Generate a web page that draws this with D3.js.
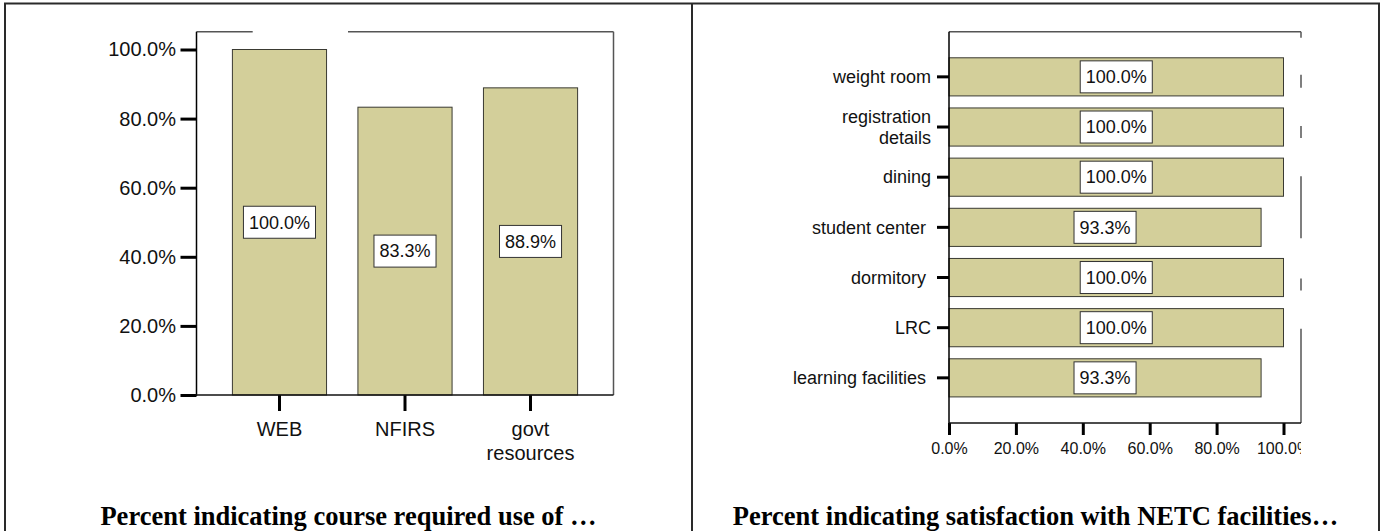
<!DOCTYPE html>
<html><head><meta charset="utf-8">
<script src="https://cdn.jsdelivr.net/npm/d3@7"></script>
<style>
body{margin:0;background:#fff}
svg{display:block}
text{font-family:"Liberation Sans",Arial,sans-serif;fill:#111}
text.title{font-family:"Liberation Serif","Times New Roman",serif;font-weight:bold;fill:#000}
</style>
</head><body>
<svg id="c" width="1382" height="531"></svg>
<script>
// ---- data ----
const barCategories = ["WEB", "NFIRS", "govt\nresources"];
const barValues = [100.0, 83.3, 88.9];
const pctTicks = [0, 20, 40, 60, 80, 100];
const facilityCategories = ["weight room", "registration\ndetails", "dining", "student center ", "dormitory ", "LRC", "learning facilities "];
const facilityValues = [100.0, 100.0, 100.0, 93.3, 100.0, 100.0, 93.3];
const leftTitle = "Percent indicating course required use of …";
const rightTitle = "Percent indicating satisfaction with NETC facilities…";

const BAR_FILL = "#d3cf9a", BAR_STROKE = "#3a3a32", FRAME = "#555";
const fmt = d => d.toFixed(1) + "%";
const svg = d3.select("#c");

// ---- outer panel borders ----
const border = svg.append("g").attr("stroke", "#2a2a2a").attr("stroke-width", 2).attr("fill", "none");
border.append("line").attr("x1", 4).attr("x2", 1380).attr("y1", 3.5).attr("y2", 3.5);
border.append("line").attr("x1", 5).attr("x2", 5).attr("y1", 3).attr("y2", 531);
border.append("line").attr("x1", 692).attr("x2", 692).attr("y1", 3).attr("y2", 531);
border.append("line").attr("x1", 1379).attr("x2", 1379).attr("y1", 3).attr("y2", 531);

function valueLabel(g, cx, cy, txt) {
  const lg = g.append("g").attr("transform", `translate(${cx},${cy})`);
  const rect = lg.append("rect").attr("fill", "#fff").attr("stroke", "#333").attr("stroke-width", 1);
  const t = lg.append("text").attr("text-anchor", "middle").attr("dy", "0.35em")
    .attr("font-size", 18).text(txt);
  const bb = t.node().getBBox();
  const w = bb.width + 11, h = 32;
  rect.attr("x", -w / 2).attr("y", -h / 2).attr("width", w).attr("height", h);
}

// ================= LEFT CHART =================
const L = svg.append("g");
const lx = d3.scaleBand().domain(barCategories).range([196.5, 613.5]).paddingInner(0.25).paddingOuter(0.286);
const ly = d3.scaleLinear().domain([0, 100]).range([395, 49.5]);
const lTop = 31.7;

// frame
const lf = L.append("g").attr("stroke", FRAME).attr("stroke-width", 1.5).attr("fill", "none");
lf.append("line").attr("x1", 196.5).attr("x2", 252.7).attr("y1", lTop).attr("y2", lTop);
lf.append("line").attr("x1", 348).attr("x2", lx.range()[1]).attr("y1", lTop).attr("y2", lTop);
lf.append("line").attr("x1", lx.range()[1]).attr("x2", lx.range()[1]).attr("y1", lTop).attr("y2", ly(0));

// bars
L.append("g").selectAll("rect").data(barValues).join("rect")
  .attr("x", (d, i) => lx(barCategories[i]))
  .attr("y", d => ly(d))
  .attr("width", lx.bandwidth())
  .attr("height", d => ly(0) - ly(d))
  .attr("fill", BAR_FILL).attr("stroke", BAR_STROKE).attr("stroke-width", 1);

// axes
const lyAxis = L.append("g").attr("transform", `translate(${lx.range()[0]},0)`)
  .call(d3.axisLeft(ly).tickValues(pctTicks).tickFormat(fmt).tickSize(16).tickPadding(4.5).tickSizeOuter(0));
lyAxis.select(".domain").remove();
lyAxis.selectAll(".tick line").attr("stroke", "#000").attr("stroke-width", 3);
lyAxis.selectAll(".tick text").attr("font-size", 20).attr("fill", "#111");

const lxAxis = L.append("g").attr("transform", `translate(0,${ly(0)})`)
  .call(d3.axisBottom(lx).tickSize(16).tickSizeOuter(0));
lxAxis.select(".domain").remove();
lxAxis.selectAll(".tick line").attr("stroke", "#000").attr("stroke-width", 3);
lxAxis.selectAll(".tick text").each(function (d) {
  const t = d3.select(this).text(null).attr("y", 0).attr("dy", null)
    .attr("font-size", 20).attr("fill", "#111");
  d.split("\n").forEach((s, i) => t.append("tspan").attr("x", 0).attr("y", 41 + i * 24).text(s));
});
// axis lines
L.append("line").attr("x1", lx.range()[0]).attr("x2", lx.range()[0]).attr("y1", lTop).attr("y2", ly(0) + 1)
  .attr("stroke", "#000").attr("stroke-width", 1.5);
L.append("line").attr("x1", lx.range()[0] - 1).attr("x2", lx.range()[1]).attr("y1", ly(0)).attr("y2", ly(0))
  .attr("stroke", "#111").attr("stroke-width", 1.5);

// value labels
barValues.forEach((v, i) => valueLabel(L, lx(barCategories[i]) + lx.bandwidth() / 2, ly(v / 2), fmt(v)));

// title
L.append("text").attr("class", "title").attr("x", 348.5).attr("y", 525).attr("text-anchor", "middle")
  .attr("font-size", 26.5).text(leftTitle);

// ================= RIGHT CHART =================
const R = svg.append("g");
const rx = d3.scaleLinear().domain([0, 100]).range([949, 1283.5]);
const ry = d3.scaleBand().domain(facilityCategories).range([31.7, 423]).paddingInner(0.24).paddingOuter(0.52);
const rRight = 1301, rTop = 31.7, rBottom = 423;

// frame top and right fragments
const rf = R.append("g").attr("stroke", FRAME).attr("stroke-width", 1.5).attr("fill", "none");
rf.append("line").attr("x1", rx(0)).attr("x2", rRight).attr("y1", rTop).attr("y2", rTop);
const yc = c => ry(c) + ry.bandwidth() / 2;
const fc = facilityCategories;
const rightSegs = [
  [rTop, rTop + 6],
  [yc(fc[0]) - 2, yc(fc[0]) + 11],
  [yc(fc[1]) - 1, yc(fc[1]) + 11],
  [yc(fc[2]) - 1, yc(fc[3]) + 11],
  [yc(fc[4]) + 1, yc(fc[4]) + 13],
  [yc(fc[5]) + 1, rBottom]
];
rightSegs.forEach(s => rf.append("line").attr("x1", rRight).attr("x2", rRight).attr("y1", s[0]).attr("y2", s[1]));

// bars
R.append("g").selectAll("rect").data(facilityValues).join("rect")
  .attr("x", rx(0))
  .attr("y", (d, i) => ry(facilityCategories[i]))
  .attr("width", d => rx(d) - rx(0))
  .attr("height", ry.bandwidth())
  .attr("fill", BAR_FILL).attr("stroke", BAR_STROKE).attr("stroke-width", 1);

// y axis
const ryAxis = R.append("g").attr("transform", `translate(${rx(0)},0)`)
  .call(d3.axisLeft(ry).tickSize(12).tickPadding(6).tickSizeOuter(0));
ryAxis.select(".domain").remove();
ryAxis.selectAll(".tick line").attr("stroke", "#000").attr("stroke-width", 3);
ryAxis.selectAll(".tick text").each(function (d) {
  const lines = d.split("\n");
  const t = d3.select(this).text(null).attr("dy", null).attr("y", 0)
    .attr("font-size", 18).attr("fill", "#111").attr("xml:space", "preserve");
  const lh = 20.5, off = 6.3 - (lines.length - 1) * lh / 2;
  lines.forEach((s, i) => t.append("tspan").attr("x", -18).attr("y", off + i * lh).text(s));
});

// x axis (labels clipped at the frame's right edge)
R.append("clipPath").attr("id", "rclip").append("rect")
  .attr("x", 900).attr("y", -5).attr("width", rRight - 900).attr("height", 60);
const rxAxis = R.append("g").attr("transform", `translate(0,${rBottom})`).attr("clip-path", "url(#rclip)")
  .call(d3.axisBottom(rx).tickValues(pctTicks).tickFormat(fmt).tickSize(12).tickPadding(7.3).tickSizeOuter(0));
rxAxis.select(".domain").remove();
rxAxis.selectAll(".tick line").attr("stroke", "#000").attr("stroke-width", 3);
rxAxis.selectAll(".tick text").attr("font-size", 16).attr("fill", "#111");

// axis lines
R.append("line").attr("x1", rx(0)).attr("x2", rx(0)).attr("y1", rTop).attr("y2", rBottom + 1)
  .attr("stroke", "#000").attr("stroke-width", 1.5);
R.append("line").attr("x1", rx(0)).attr("x2", rRight).attr("y1", rBottom).attr("y2", rBottom)
  .attr("stroke", "#111").attr("stroke-width", 1.5);

// value labels
facilityValues.forEach((v, i) => valueLabel(R, rx(v / 2), yc(facilityCategories[i]), fmt(v)));

// title
R.append("text").attr("class", "title").attr("x", 1035.5).attr("y", 525).attr("text-anchor", "middle")
  .attr("font-size", 26.5).text(rightTitle);
</script>
</body></html>
